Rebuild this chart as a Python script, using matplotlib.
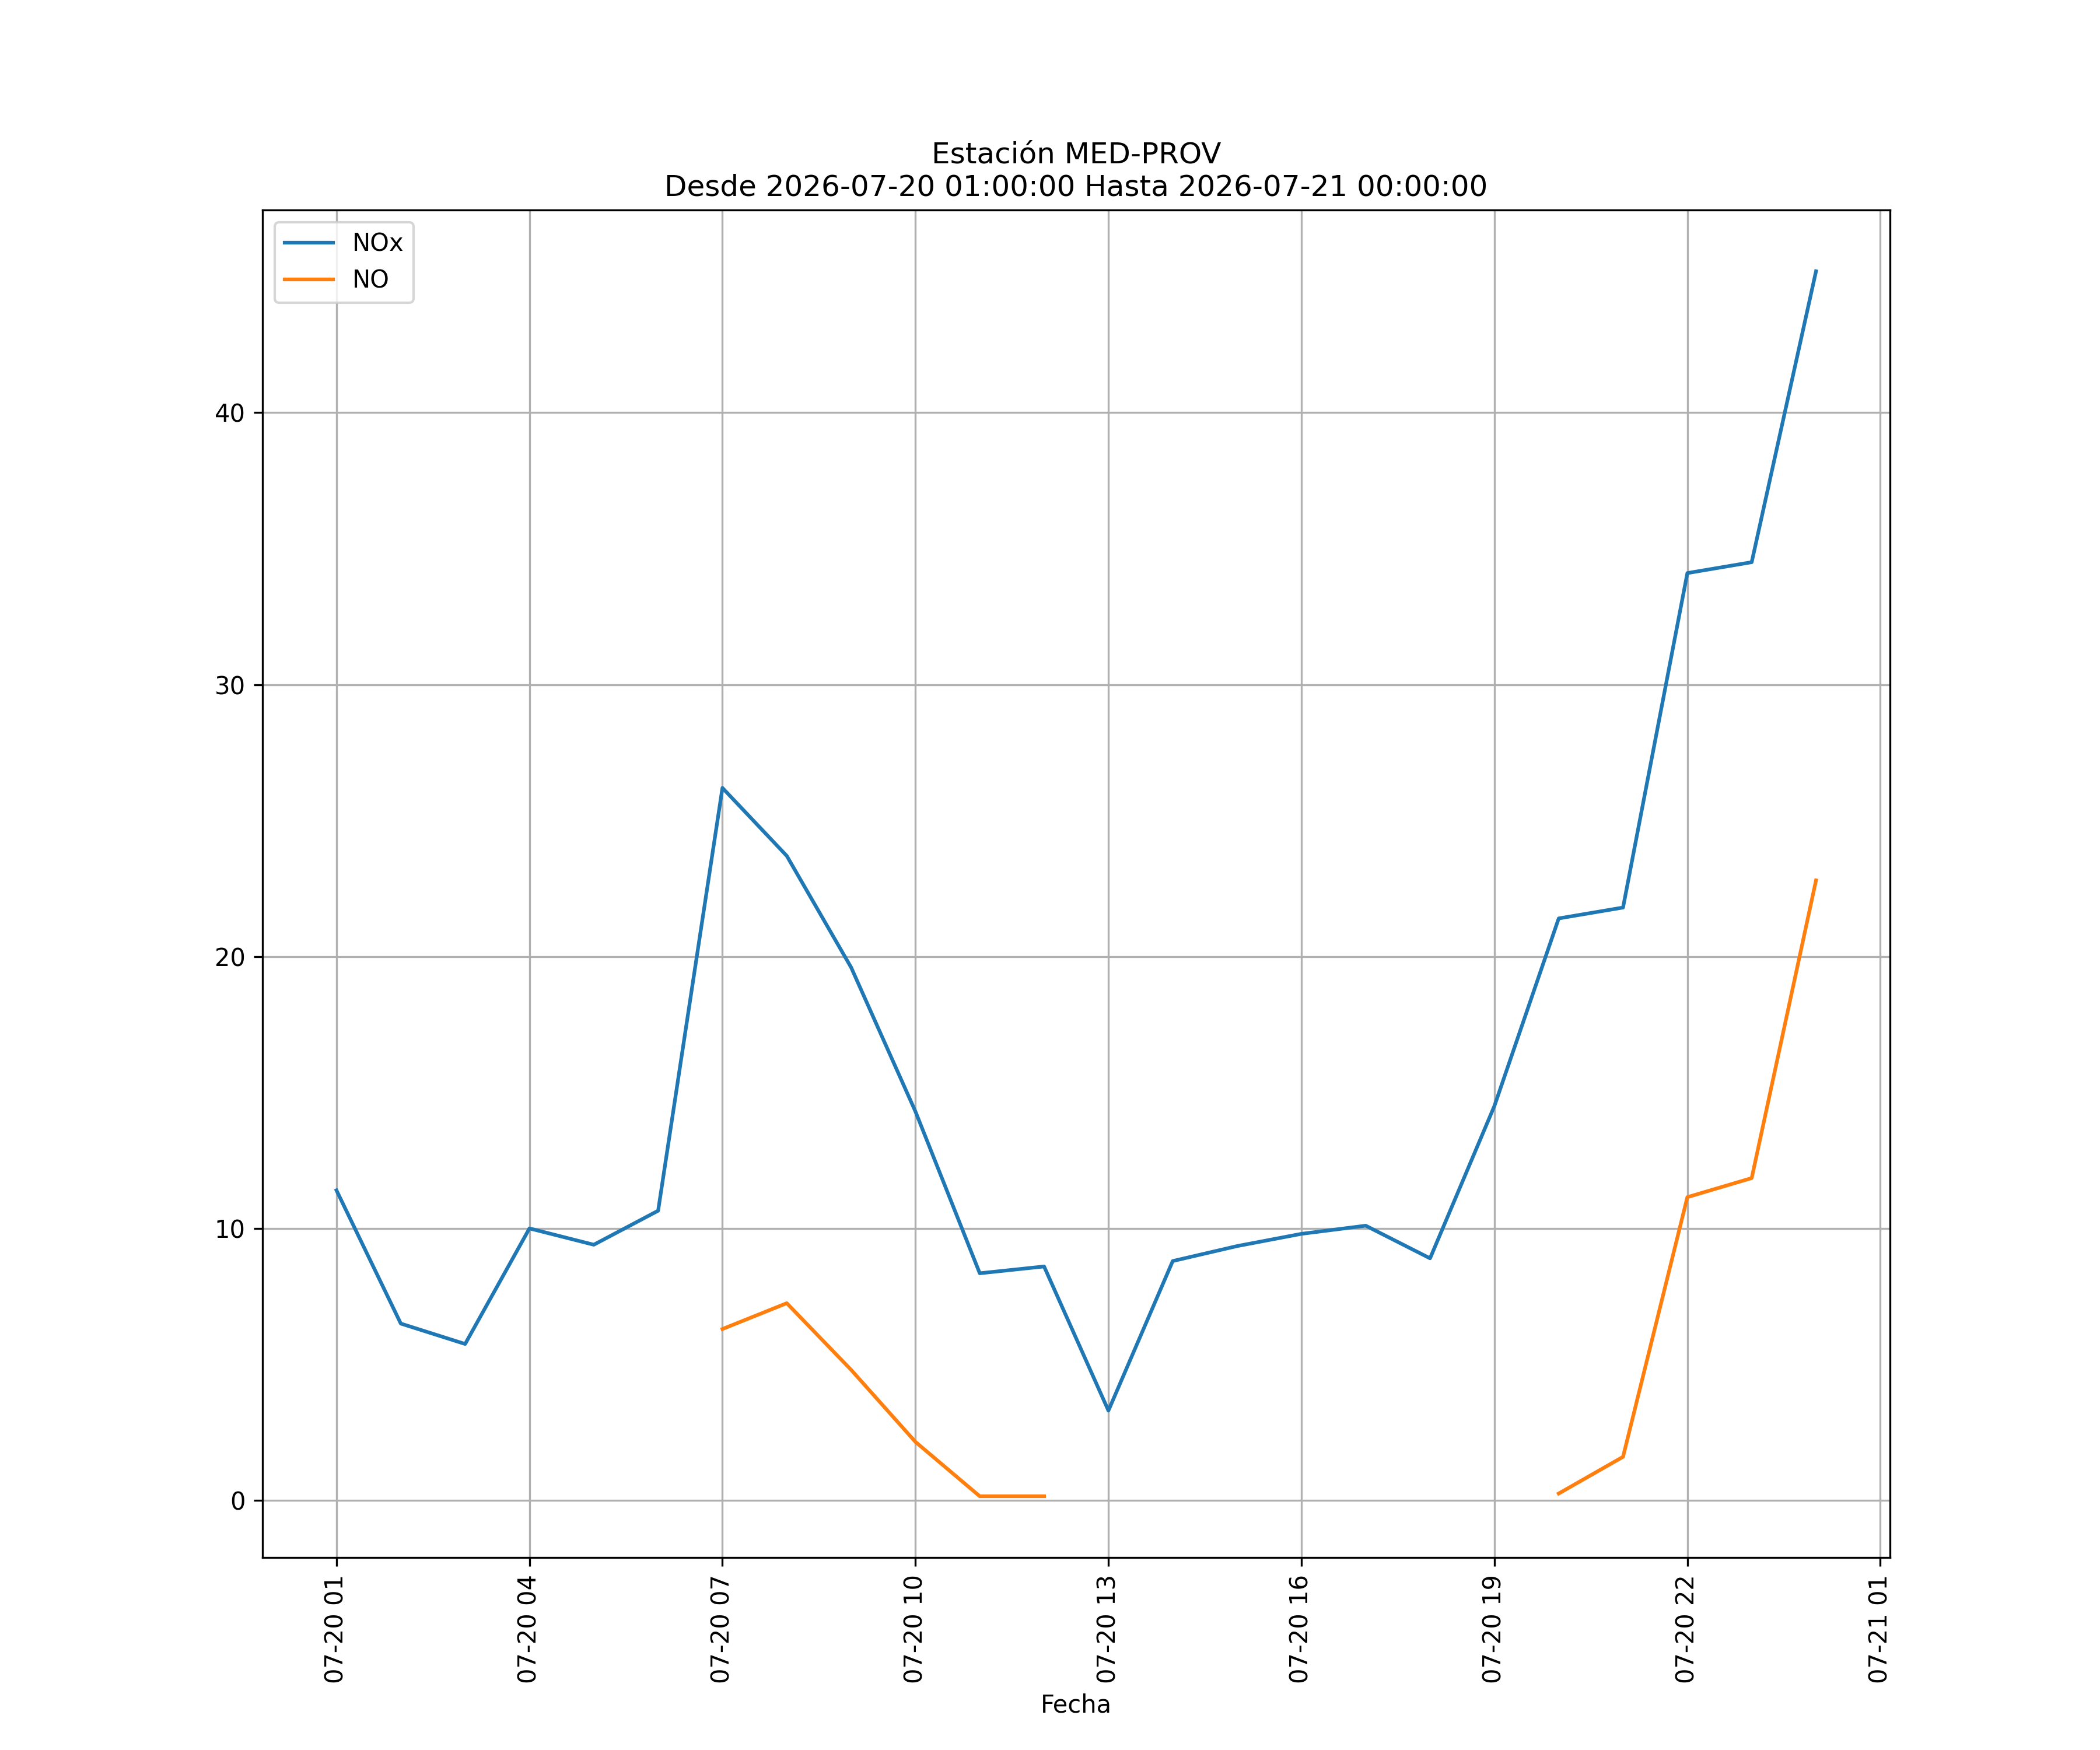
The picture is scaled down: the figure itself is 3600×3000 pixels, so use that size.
import matplotlib
matplotlib.use("Agg")
import matplotlib.pyplot as plt
import matplotlib.dates as mdates
import numpy as np
import pandas as pd

times = pd.date_range("2026-07-20 01:00", "2026-07-21 00:00", freq="h")
nox = [11.4, 6.5, 5.75, 10.0, 9.4, 10.65, 26.2, 23.7, 19.6, 14.3, 8.35, 8.6,
       3.3, 8.8, 9.35, 9.8, 10.1, 8.9, 14.5, 21.4, 21.8, 34.1, 34.5, 45.2]
no = [np.nan]*6 + [6.3, 7.25, 4.8, 2.15, 0.15, 0.15] + [np.nan]*7 + [0.25, 1.6, 11.15, 11.85, 22.8]

fig, ax = plt.subplots(figsize=(12, 10), dpi=300)
ax.plot(times, nox, label="NOx")
ax.plot(times, no, label="NO")
ax.xaxis.set_major_locator(mdates.HourLocator(byhour=range(1, 24, 3)))
ax.xaxis.set_major_formatter(mdates.DateFormatter("%m-%d %H"))
plt.setp(ax.get_xticklabels(), rotation=90)
ax.grid(True)
ax.legend(loc="upper left")
ax.set_xlabel("Fecha")
ax.set_title("Estación MED-PROV\nDesde 2026-07-20 01:00:00 Hasta 2026-07-21 00:00:00")
fig.savefig("out.png")
